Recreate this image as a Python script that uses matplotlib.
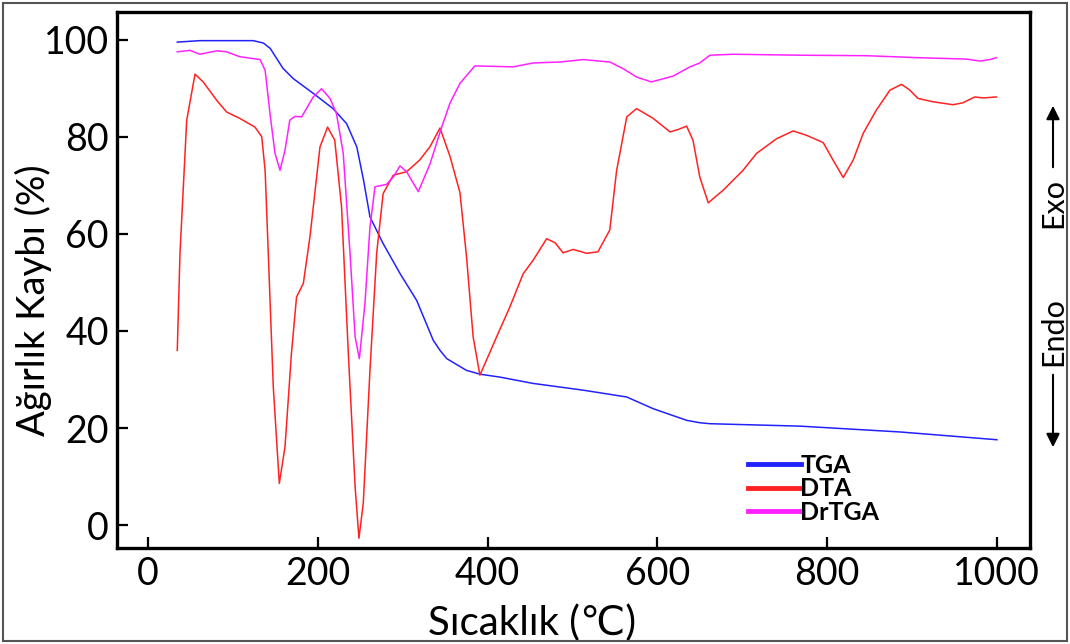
import matplotlib
matplotlib.use("Agg")
import matplotlib.pyplot as plt
from matplotlib.patches import Rectangle, FancyArrowPatch

plt.rcParams['font.family'] = ['Lato', 'DejaVu Sans']

# ---- data ----
tga_T = [34.5, 61, 124, 136, 144, 159, 171, 195, 218, 234, 246, 254, 261.5, 277, 297,
         316.5, 336, 344, 352, 375, 391, 414.6, 453.6, 513, 564, 595, 634.5, 650, 662,
         768, 886, 1000]
tga_V = [99.5, 99.8, 99.8, 99.3, 98.2, 94.1, 92.0, 88.9, 85.8, 82.7, 77.9, 71.0, 63.5,
         58.0, 51.8, 46.3, 38.1, 36.0, 34.3, 31.9, 31.1, 30.5, 29.2, 27.8, 26.4, 24.0,
         21.6, 21.1, 20.9, 20.4, 19.2, 17.6]

dta_T = [34.5, 37.7, 45.6, 55.4, 65, 81, 92.6, 108, 126, 134, 138, 141.7, 147.6, 154.7,
         161.4, 169, 175, 183, 190.8, 202.6, 211.6, 220, 228, 236, 244, 248.5, 253.6,
         261.5, 269.4, 277, 289, 304.7, 320, 332, 344, 355.7, 367.5, 375.4, 383, 391,
         410.7, 426.4, 442, 453.8, 469.6, 479.4, 489, 501, 516.7, 530, 544, 552, 564,
         575.6, 595, 615, 624.6, 634.5, 642, 650, 660, 677.6, 701, 717, 740.5, 760,
         775.8, 795.4, 807, 819, 830.7, 842.5, 858, 874, 887.7, 897.5, 907, 925, 948.5,
         960, 974, 984, 999.6]
dta_V = [36.0, 56.0, 83.4, 92.9, 91.3, 87.5, 85.1, 83.8, 82.0, 80.0, 73.0, 56.0, 28.5,
         8.6, 16.1, 35.4, 47.0, 49.8, 59.4, 77.9, 82.0, 79.3, 65.6, 35.4, 7.9, -2.7, 4.5,
         31.9, 56.0, 68.3, 72.1, 72.8, 75.2, 77.9, 81.8, 76.0, 68.5, 55.0, 38.8, 30.9,
         38.8, 45.0, 51.8, 54.6, 59.0, 58.2, 56.1, 56.8, 56.0, 56.3, 60.8, 73.0, 84.1,
         85.8, 83.8, 81.0, 81.5, 82.2, 79.3, 71.7, 66.4, 69.0, 73.1, 76.6, 79.6, 81.2,
         80.3, 78.8, 75.2, 71.6, 75.2, 80.7, 85.5, 89.6, 90.8, 89.6, 87.9, 87.2, 86.6,
         87.0, 88.2, 88.0, 88.2]

drtga_T = [34.5, 49.5, 61, 81, 92.6, 108, 132, 138, 143.7, 149.6, 155.5, 161.4, 167, 173,
           181, 194.7, 204.5, 214.4, 222, 230, 238, 244, 249, 255.6, 261.5, 267.4, 281,
           289, 296.8, 304.7, 318.4, 332, 346, 355.7, 367.5, 385, 430, 453.8, 485, 512.7,
           544, 560, 575.6, 593, 618.7, 638.4, 650, 662, 689.4, 768, 846.5, 905.4, 964,
           980, 991.7, 999.6]
drtga_V = [97.5, 97.8, 97.0, 97.7, 97.5, 96.5, 95.9, 93.7, 84.8, 76.6, 73.1, 77.2, 83.4,
           84.2, 84.1, 88.2, 89.9, 87.9, 84.8, 76.6, 56.0, 38.8, 34.3, 45.7, 61.4, 69.7,
           70.2, 71.7, 74.0, 72.8, 68.7, 74.3, 82.0, 86.9, 91.0, 94.6, 94.4, 95.2, 95.4,
           95.9, 95.4, 94.0, 92.3, 91.3, 92.5, 94.4, 95.2, 96.8, 97.0, 96.8, 96.7, 96.3,
           96.0, 95.6, 95.9, 96.3]

x_ticks = [0, 200, 400, 600, 800, 1000]
y_ticks = [0, 20, 40, 60, 80, 100]
series_labels = ["TGA", "DTA", "DrTGA"]
series_colors = ["#2222ff", "#ff2222", "#ff22ff"]

# ---- figure ----
fig = plt.figure(figsize=(10.7, 6.44), dpi=100)
ax = fig.add_axes([117/1070, 1-548/644, (1030-117)/1070, (548-12)/644])

ax.plot(tga_T, tga_V, color=series_colors[0], lw=1.1, label=series_labels[0])
ax.plot(dta_T, dta_V, color=series_colors[1], lw=1.1, label=series_labels[1])
ax.plot(drtga_T, drtga_V, color=series_colors[2], lw=1.1, label=series_labels[2])

ax.set_xlim(-36.5, 1039)
ax.set_ylim(-4.7, 105.7)
ax.set_xticks(x_ticks)
ax.set_yticks(y_ticks)
ax.tick_params(direction='in', length=8, width=1.6, labelsize=27, pad=6)
for s in ax.spines.values():
    s.set_linewidth(2.4)

ax.set_ylabel("Ağırlık Kaybı (%)", fontsize=27.5, labelpad=0)
ax.yaxis.set_label_coords(-0.071, 0.463)
ax.set_xlabel("Sıcaklık (℃)", fontsize=29, labelpad=0)
ax.xaxis.set_label_coords(0.455, -0.105)

leg = ax.legend(loc='upper left', bbox_to_anchor=((748-117)/913, (548-454)/536),
                frameon=False, handlelength=2.1, handletextpad=0.0, borderpad=0,
                borderaxespad=0, labelspacing=0.02,
                prop={'family': ['Lato', 'DejaVu Sans'], 'weight': 'bold', 'size': 18})
for h in leg.get_lines():
    h.set_linewidth(3.5)

# Exo / Endo annotations on the right
fig.text(1053/1070, 1-203/644, "Exo", rotation=90, ha='center', va='center', fontsize=22)
fig.text(1053/1070, 1-332/644, "Endo", rotation=90, ha='center', va='center', fontsize=22)
fig.patches.append(FancyArrowPatch(
    (1053/1070, 1-170/644), (1053/1070, 1-103/644), transform=fig.transFigure,
    arrowstyle='-|>,head_length=8,head_width=4', lw=1.5, color='black'))
fig.patches.append(FancyArrowPatch(
    (1053/1070, 1-372/644), (1053/1070, 1-450/644), transform=fig.transFigure,
    arrowstyle='-|>,head_length=8,head_width=4', lw=1.5, color='black'))

# outer border
fig.patches.append(Rectangle((3/1070, 3/644), 1064/1070, 638/644, transform=fig.transFigure,
                             fill=False, edgecolor='#555555', lw=1.5))

fig.savefig("out.png", dpi=100)
